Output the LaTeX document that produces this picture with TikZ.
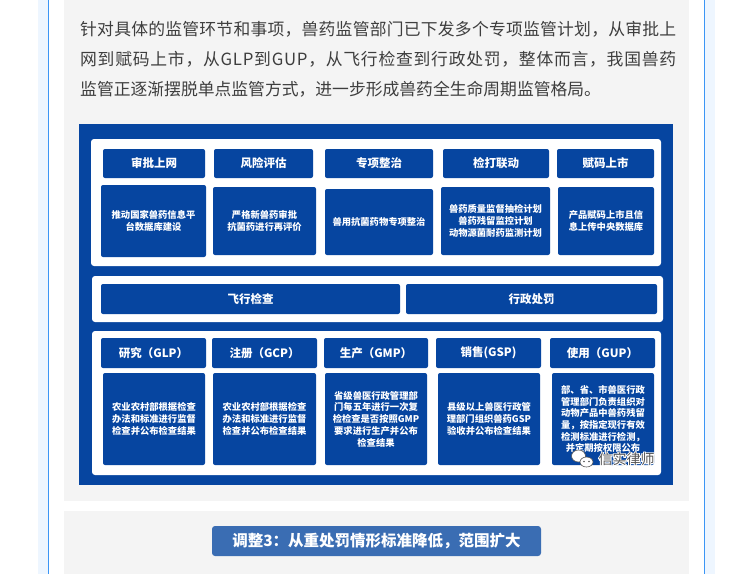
\documentclass[tikz,border=0pt]{standalone}
\usepackage{fontspec}
\setmainfont{Noto Sans CJK SC}
\definecolor{dblue}{RGB}{6,69,160}
\definecolor{tblue}{RGB}{58,109,179}
\definecolor{greybg}{RGB}{244,244,244}
\definecolor{lblue}{RGB}{238,246,255}
\definecolor{lline}{RGB}{60,150,245}
\definecolor{ptext}{RGB}{62,62,62}
\definecolor{wmark}{RGB}{85,85,85}
\tikzset{
  panel/.style={fill=white, rounded corners=3pt, inner sep=0pt},
  hdr/.style={fill=dblue, rounded corners=2pt, text=white, inner sep=0pt, align=center,
    font=\bfseries\fontsize{11.5}{14}\selectfont},
  cbox/.style={fill=dblue, rounded corners=2pt, text=white, inner sep=0pt, align=center,
    font=\bfseries\fontsize{9.3}{11.7}\selectfont},
  pline/.style={anchor=base west, inner sep=0pt, text=ptext,
    font=\fontsize{16.8}{30}\selectfont},
}
\makeatletter
\def\spreadtxt#1{\spreadtxt@#1\@nil}
\def\spreadtxt@#1#2\@nil{#1\ifx\relax#2\relax\else\hfill\spreadtxt@#2\@nil\fi}
\makeatother
\newcommand\fullline[1]{\hbox to 596pt{\spreadtxt{#1}}}
\newcommand\halo[1]{\rlap{\special{pdf:literal 1 Tr 1.8 w 1 1 1 RG}#1\special{pdf:literal 0 Tr}}#1}
\begin{document}
\begin{tikzpicture}[x=1pt,y=-1pt]
\useasboundingbox (0,0) rectangle (735,574);
% page background
\fill[lblue] (38,0) rectangle (715,574);
\fill[white] (48,0) rectangle (704,574);
\draw[lline, line width=0.8pt] (48,0) -- (48,574);
\draw[lline, line width=0.8pt] (704,0) -- (704,574);
\fill[greybg] (64,0) rectangle (689,501);
\fill[greybg] (64,511) rectangle (689,574);
% paragraph
\node[pline] (p1) at (80,35.3) {\fullline{针对具体的监管环节和事项，兽药监管部门已下发多个专项监管计划，从审批上}};
\node[pline] (p2) at (80,65.3) {\fullline{网到赋码上市，从GLP到GUP，从飞行检查到行政处罚，整体而言，我国兽药}};
\node[pline] (p3) at (80,95.3) {监管正逐渐摆脱单点监管方式，进一步形成兽药全生命周期监管格局。};
% diagram background
\node[fill=dblue, minimum width=594pt, minimum height=361pt, inner sep=0pt] (diag) at (376,304.5) {};
\node[panel, minimum width=570pt, minimum height=127pt] (top) at (376,202.5) {};
\node[panel, minimum width=571pt, minimum height=46pt] (mid) at (377.5,299) {};
\node[panel, minimum width=569pt, minimum height=144pt] (bot) at (376.5,403) {};
% row 1 headers
\node[hdr, minimum width=102pt, minimum height=29pt] (h1) at (154,163.5) {审批上网};
\node[hdr, minimum width=99pt, minimum height=29pt] (h2) at (263.5,163.5) {风险评估};
\node[hdr, minimum width=108pt, minimum height=29pt] (h3) at (379,163.5) {专项整治};
\node[hdr, minimum width=106pt, minimum height=29pt] (h4) at (496,163.5) {检打联动};
\node[hdr, minimum width=97pt, minimum height=29pt] (h5) at (605.5,163.5) {赋码上市};
% row 1 contents
\node[cbox, minimum width=105pt, minimum height=72pt] (c1) at (153.5,221) {推动国家兽药信息平\\台数据库建设};
\node[cbox, minimum width=103pt, minimum height=68pt] (c2) at (264.5,221) {严格新兽药审批\\抗菌药进行再评价};
\node[cbox, minimum width=108pt, minimum height=66pt] (c3) at (379,222) {兽用抗菌药物专项整治};
\node[cbox, minimum width=109pt, minimum height=68pt] (c4) at (495.5,221) {兽药质量监督抽检计划\\兽药残留监控计划\\动物源菌耐药监测计划};
\node[cbox, minimum width=96pt, minimum height=68pt] (c5) at (606,221) {产品赋码上市且信\\息上传中央数据库};
% middle
\node[hdr, minimum width=299pt, minimum height=30pt] (m1) at (250.5,299) {飞行检查};
\node[hdr, minimum width=251pt, minimum height=30pt] (m2) at (531.5,299) {行政处罚};
% row 3 headers
\node[hdr, minimum width=105pt, minimum height=30pt] (g1) at (153.5,353) {研究（GLP）};
\node[hdr, minimum width=105pt, minimum height=30pt] (g2) at (264.5,353) {注册（GCP）};
\node[hdr, minimum width=104pt, minimum height=30pt] (g3) at (376,353) {生产（GMP）};
\node[hdr, minimum width=105pt, minimum height=30pt] (g4) at (488.5,353) {销售(GSP)};
\node[hdr, minimum width=105pt, minimum height=30pt] (g5) at (602.5,353) {使用（GUP）};
% row 3 contents
\node[cbox, minimum width=102pt, minimum height=92pt] (d1) at (154,419) {农业农村部根据检查\\办法和标准进行监督\\检查并公布检查结果};
\node[cbox, minimum width=103pt, minimum height=92pt] (d2) at (264.5,419) {农业农村部根据检查\\办法和标准进行监督\\检查并公布检查结果};
\node[cbox, minimum width=102pt, minimum height=92pt] (d3) at (376,419) {省级兽医行政管理部\\门每五年进行一次复\\检检查是否按照GMP\\要求进行生产并公布\\检查结果};
\node[cbox, minimum width=102pt, minimum height=92pt] (d4) at (489,419) {县级以上兽医行政管\\理部门组织兽药GSP\\验收并公布检查结果};
\node[cbox, minimum width=102pt, minimum height=92pt] (d5) at (603,419) {部、省、市兽医行政\\管理部门负责组织对\\动物产品中兽药残留\\量，按指定现行有效\\检测标准进行检测，\\并定期按权限公布};
% watermark
\draw[wmark, fill=white, line width=0.6pt] (578.5,456) ellipse (7pt and 6pt);
\draw[wmark, fill=white, line width=0.6pt] (586.5,462) ellipse (6.5pt and 5pt);
\fill[wmark] (584,461.5) circle (0.8pt) (589,461.5) circle (0.8pt);
\node[text=wmark, inner sep=0pt, font=\fontsize{14}{14}\selectfont] (wm) at (626.5,459) {\halo{信实律师}};
% title
\node[fill=tblue, rounded corners=3pt, text=white, inner sep=0pt, minimum width=329pt, minimum height=30pt,
  font=\bfseries\fontsize{15.5}{18}\selectfont] (title) at (376.5,541) {调整3：从重处罚情形标准降低，范围扩大};
\end{tikzpicture}
\end{document}
